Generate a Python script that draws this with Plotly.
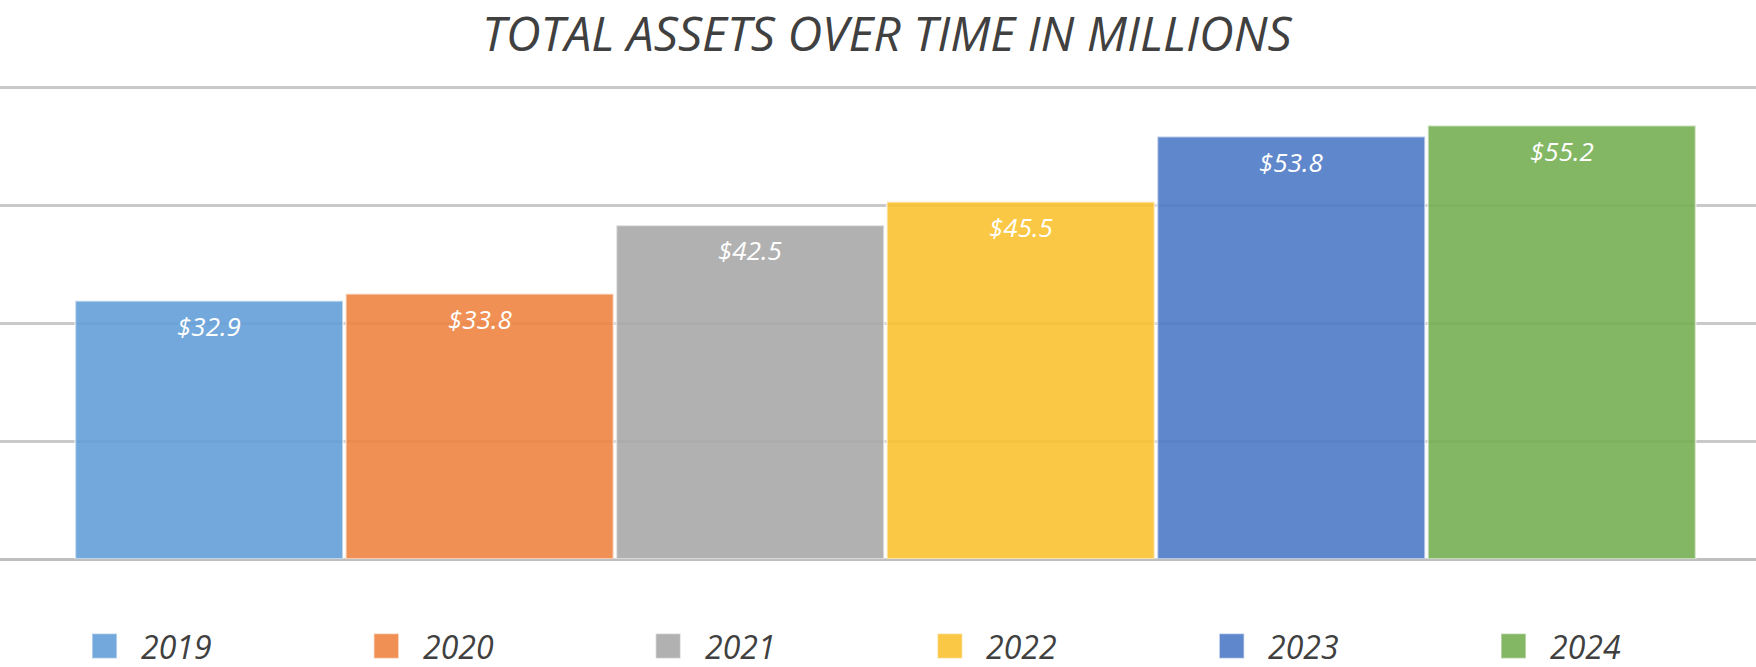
import plotly.graph_objects as go

years = ["2019", "2020", "2021", "2022", "2023", "2024"]
assets = [32.9, 33.8, 42.5, 45.5, 53.8, 55.2]
labels = ["$32.9", "$33.8", "$42.5", "$45.5", "$53.8", "$55.2"]
colors = ["#639ED7", "#EE8442", "#A8A8A8", "#F9C231", "#4E7AC5", "#76AF53"]
title_text = "TOTAL ASSETS OVER TIME IN MILLIONS"

W, H = 1756, 667
M_T, M_B = 84, 108
PLOT_H = H - M_T - M_B
FONT = "Open Sans"
TXT = "#404040"
ALPHA = 0.9


def rgba(hex_color, a):
    h = hex_color.lstrip("#")
    r, g, b = int(h[0:2], 16), int(h[2:4], 16), int(h[4:6], 16)
    return f"rgba({r},{g},{b},{a})"


fig = go.Figure()
for i, (yr, v, c) in enumerate(zip(years, assets, colors)):
    fig.add_trace(go.Bar(
        x=[i], y=[v], name=yr, width=0.99,
        marker=dict(color=rgba(c, ALPHA),
                    line=dict(color="rgba(255,255,255,0.55)", width=2)),
        showlegend=False, hoverinfo="skip",
    ))
    fig.add_annotation(
        x=i, y=v, xref="x", yref="y", text=labels[i], showarrow=False,
        yanchor="top", yshift=-5,
        font=dict(family=FONT, size=26, color="white", style="italic"),
    )

# manual legend (large square swatches like the original)
sq = 25
for i, (yr, c) in enumerate(zip(years, colors)):
    cx = 92 + i * 281.8
    cy = 646
    x0 = cx / W
    x1 = (cx + sq) / W
    yc = (H - M_B - cy) / PLOT_H
    hh = (sq / 2) / PLOT_H
    fig.add_shape(type="rect", xref="paper", yref="paper",
                  x0=x0, x1=x1, y0=yc - hh, y1=yc + hh,
                  fillcolor=rgba(c, ALPHA),
                  line=dict(color="rgba(255,255,255,0.55)", width=1.5))
    fig.add_annotation(
        x=(cx + 47) / W, y=yc, xref="paper", yref="paper",
        text=yr, showarrow=False, xanchor="left", yanchor="middle",
        font=dict(family=FONT, size=32, color=TXT, style="italic"),
    )

fig.update_layout(
    width=W, height=H,
    margin=dict(l=0, r=0, t=M_T, b=M_B),
    paper_bgcolor="white", plot_bgcolor="white",
    barmode="overlay",
    title=dict(text=title_text, x=0.505, xanchor="center",
               y=1 - 34 / H, yanchor="middle", yref="container",
               font=dict(family=FONT, size=48, color=TXT, style="italic")),
    xaxis=dict(range=[-0.773, 5.718], showgrid=False, zeroline=False,
               showticklabels=False, ticks="", showline=False, fixedrange=True),
    yaxis=dict(range=[0, 60.5], tick0=0, dtick=15, showgrid=True,
               gridcolor="#C9C9C9", gridwidth=2.5, zeroline=True,
               zerolinecolor="#BFBFBF", zerolinewidth=3,
               showticklabels=False, ticks="", showline=False, fixedrange=True),
    showlegend=False,
)

fig.write_html("out.html", config={"displayModeBar": False},
               post_script="document.body.style.margin='0';")
